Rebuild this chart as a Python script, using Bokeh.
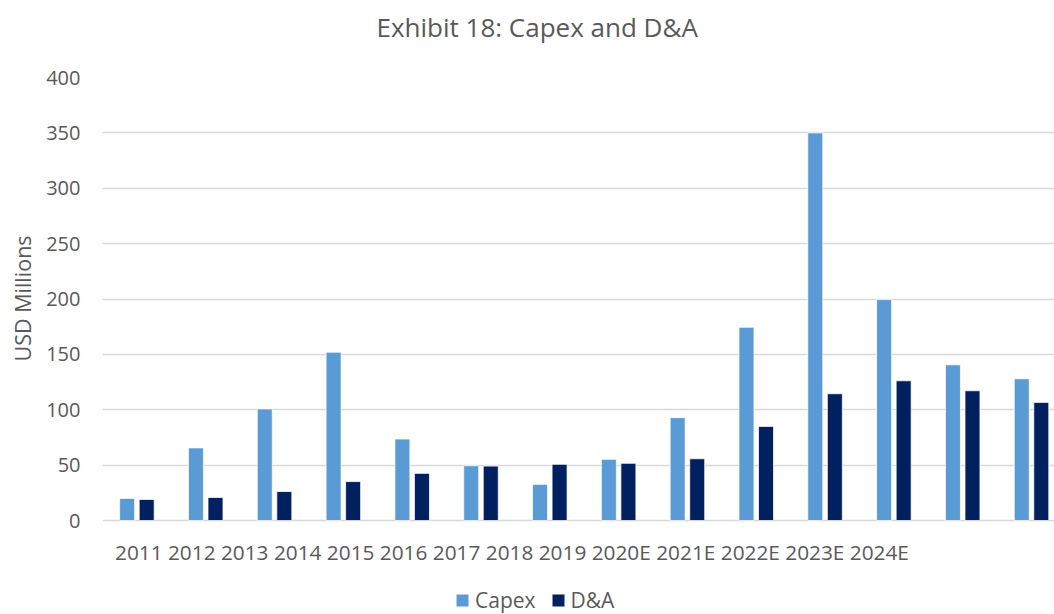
import numpy as np
from bokeh.plotting import figure
from bokeh.models import (ColumnDataSource, Range1d, FixedTicker, Legend, LegendItem,
                          NumeralTickFormatter, Label, Title)
from bokeh.transform import dodge
from bokeh.embed import file_html
from bokeh.resources import INLINE

# Fiscal years (E = estimate) and the two series, USD millions
years = ["2011", "2012", "2013", "2014", "2015", "2016", "2017", "2018", "2019",
         "2020E", "2021E", "2022E", "2023E", "2024E"]
capex = [20, 65.6, 100.8, 152, 73.6, 49.5, 32.7, 55.3, 92.9, 174.5, 350, 199.5, 140.6, 128]
dna = [19, 20.8, 26.2, 35.2, 42.6, 49.2, 50.8, 51.7, 55.8, 85, 114.5, 126.2, 117.2, 106.7]
y_ticks = [0, 50, 100, 150, 200, 250, 300, 350, 400]

TEXT = "#595959"
FONT = "Open Sans"
CAPEX_COLOR = "#5B9BD5"
DNA_COLOR = "#002060"
GRID = "#D9D9D9"

src = ColumnDataSource(dict(x=np.arange(len(years)), capex=capex, dna=dna, year=years))

# The plotting area runs down to the bottom edge so the year row and the legend sit
# inside it, below the zero line.
p = figure(width=1054, height=614, output_backend="svg", toolbar_location=None, title=None,
           x_range=Range1d(-0.5, 13.334), y_range=Range1d(-84.8, 400),
           min_border_left=102, min_border_right=0, min_border_top=77, min_border_bottom=0)
p.outline_line_color = None
p.background_fill_color = "white"
p.border_fill_color = "white"

# Titles in the top panel stack outward from the plot: a blank spacer first, then the
# chart title, which lifts the title towards the top edge.
p.add_layout(Title(text=" ", text_font_size="2px", standoff=29), "above")
p.add_layout(Title(text="Exhibit 18: Capex and D&A", align="left", offset=274,
                   vertical_align="bottom", standoff=0, text_font=FONT,
                   text_font_style="normal", text_font_size="26px", text_color=TEXT), "above")

bar_w = 0.218
r_capex = p.vbar(x=dodge("x", -0.142, range=p.x_range), top="capex", width=bar_w, source=src,
                 fill_color=CAPEX_COLOR, line_color="white", line_width=0.75)
r_dna = p.vbar(x=dodge("x", 0.142, range=p.x_range), top="dna", width=bar_w, source=src,
               fill_color=DNA_COLOR, line_color="white", line_width=0.75)

# Y axis
p.yaxis.ticker = FixedTicker(ticks=y_ticks)
p.yaxis.formatter = NumeralTickFormatter(format="0")
p.yaxis.axis_line_color = None
p.yaxis.major_tick_line_color = None
p.yaxis.minor_tick_line_color = None
p.yaxis.major_tick_out = 0
p.yaxis.major_label_standoff = 22
p.yaxis.major_label_text_font = FONT
p.yaxis.major_label_text_font_size = "20px"
p.yaxis.major_label_text_color = TEXT

# Vertical axis title, centred on the 0-400 value span rather than the whole frame
p.add_layout(Title(text="USD Millions", align="left", offset=253, vertical_align="top",
                   standoff=10, text_font=FONT, text_font_style="normal",
                   text_font_size="21.5px", text_color=TEXT), "left")

p.ygrid.ticker = FixedTicker(ticks=y_ticks)
p.ygrid.grid_line_color = GRID
p.ygrid.grid_line_width = 1.5
p.xgrid.grid_line_color = None
p.xaxis.visible = False

# Year labels run as one line of text under the bars
label_center = 5.45
p.add_layout(Label(x=label_center, y=-28, text=" ".join(years), text_align="center",
                   text_baseline="middle", text_font=FONT, text_font_size="20.8px",
                   text_color=TEXT))

legend = Legend(items=[LegendItem(label="Capex", renderers=[r_capex]),
                       LegendItem(label="D&A", renderers=[r_dna])],
                orientation="horizontal", location=(352, 0),
                glyph_width=16, glyph_height=16, label_standoff=5, spacing=14,
                padding=0, margin=0, border_line_color=None,
                label_text_font=FONT, label_text_font_size="21px", label_text_color=TEXT,
                background_fill_alpha=0)
p.add_layout(legend)

open("out.html", "w").write(file_html(p, INLINE))
